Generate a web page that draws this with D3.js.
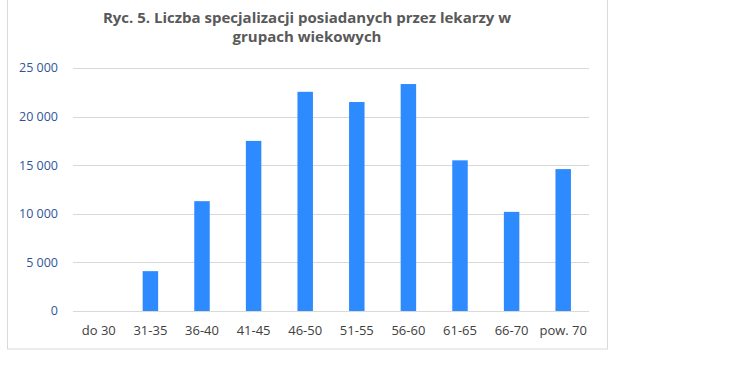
<!DOCTYPE html>
<html lang="pl">
<head>
<meta charset="UTF-8">
<title>Ryc. 5</title>
<script src="https://cdn.jsdelivr.net/npm/d3@7"></script>
<style>
*{margin:0; padding:0;}
body{background:#fff;}
svg{display:block; font-family:"Open Sans", sans-serif;}
.grid line{stroke:#d9d9d9;}
</style>
</head>
<body>
<script>
var categories = ["do 30", "31-35", "36-40", "41-45", "46-50", "51-55", "56-60", "61-65", "66-70", "pow. 70"];
var values = [0, 4100, 11300, 17500, 22550, 21500, 23350, 15500, 10200, 14600];
var yTicks = [0, 5000, 10000, 15000, 20000, 25000];
var titleLines = ["Ryc. 5. Liczba specjalizacji posiadanych przez lekarzy w", "grupach wiekowych"];

var width = 752, height = 388;
var svg = d3.select("body").append("svg")
	.attr("width", width)
	.attr("height", height);

// ramka wykresu (górna krawędź poza kadrem)
svg.append("rect")
	.attr("x", 7.5).attr("y", -20)
	.attr("width", 600).attr("height", 369)
	.attr("fill", "none")
	.attr("stroke", "#d9d9d9");

var x = d3.scaleBand()
	.domain(categories)
	.range([73, 589])
	.paddingInner(0.7)
	.paddingOuter(0.35);

var y = d3.scaleLinear()
	.domain([0, 25000])
	.range([311, 68]);

var fmt = function(d){ return d3.format(",")(d).replace(/,/g, " "); };

// linie siatki
svg.append("g").classed("grid", true)
	.selectAll("line")
	.data(yTicks)
	.enter().append("line")
	.attr("x1", 73).attr("x2", 589)
	.attr("y1", function(d){ return Math.round(y(d)) + 0.5; })
	.attr("y2", function(d){ return Math.round(y(d)) + 0.5; });

// etykiety osi Y
svg.append("g")
	.selectAll("text")
	.data(yTicks)
	.enter().append("text")
	.attr("x", 58)
	.attr("y", function(d){ return y(d); })
	.attr("dy", "0.35em")
	.attr("text-anchor", "end")
	.attr("font-size", 12.5)
	.attr("fill", "#2f5597")
	.text(fmt);

// słupki
svg.append("g")
	.selectAll("rect")
	.data(values)
	.enter().append("rect")
	.attr("x", function(d, i){ return x(categories[i]); })
	.attr("width", x.bandwidth())
	.attr("y", function(d){ return y(d); })
	.attr("height", function(d){ return y(0) - y(d); })
	.attr("fill", "#2e8bff");

// etykiety osi X
svg.append("g")
	.selectAll("text")
	.data(categories)
	.enter().append("text")
	.attr("x", function(d){ return x(d) + x.bandwidth() / 2; })
	.attr("y", 330)
	.attr("dy", "0.35em")
	.attr("text-anchor", "middle")
	.attr("font-size", 13)
	.attr("fill", "#404040")
	.text(function(d){ return d; });

// tytuł
svg.append("g")
	.selectAll("text")
	.data(titleLines)
	.enter().append("text")
	.attr("x", 307)
	.attr("y", function(d, i){ return 18 + i * 19; })
	.attr("dy", "0.35em")
	.attr("text-anchor", "middle")
	.attr("font-size", 15)
	.attr("font-weight", "bold")
	.attr("fill", "#595959")
	.text(function(d){ return d; });
</script>
</body>
</html>
